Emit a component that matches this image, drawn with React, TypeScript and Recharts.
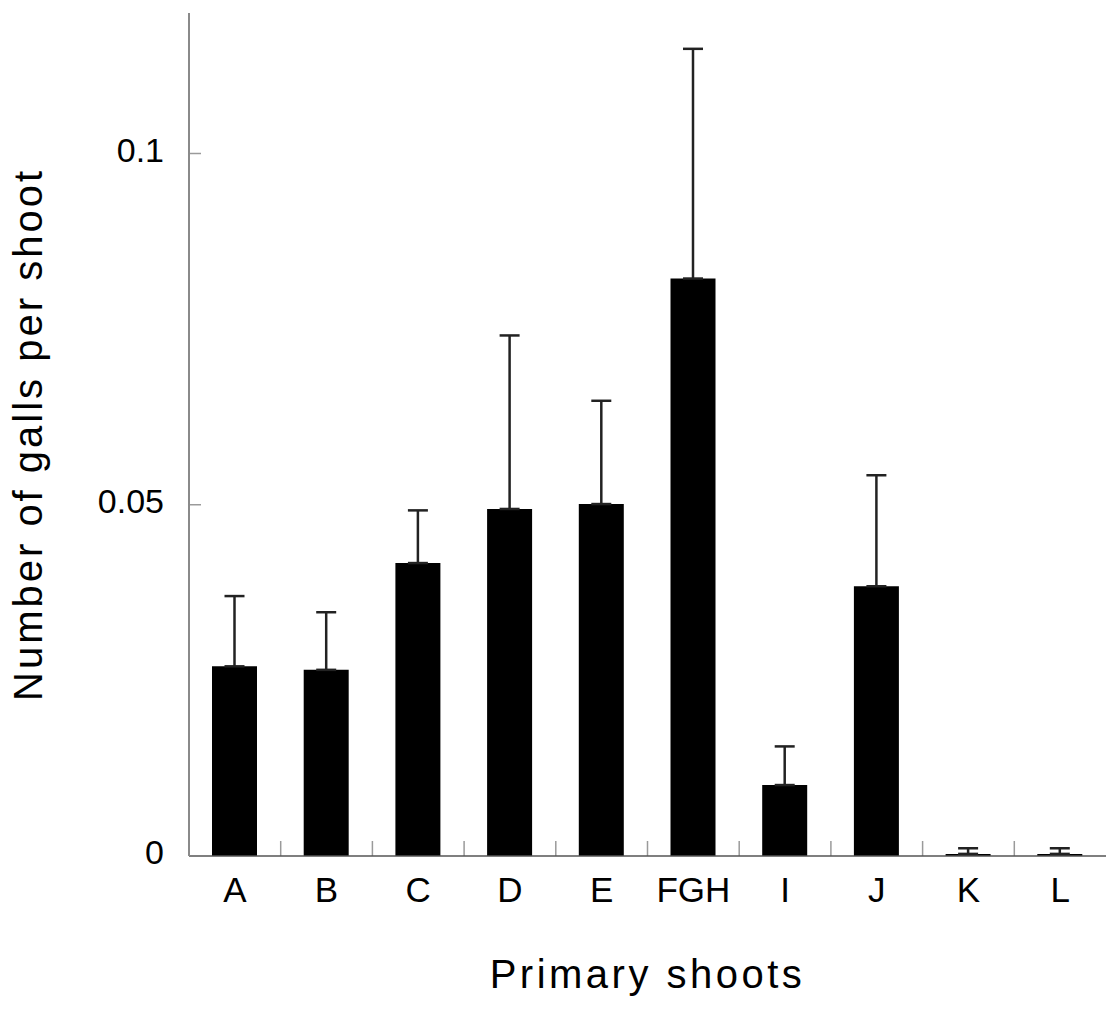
import { Bar, BarChart, ErrorBar, XAxis, YAxis } from "recharts";

const shoots = ["A", "B", "C", "D", "E", "FGH", "I", "J", "K", "L"];
const gallsPerShoot = [0.027, 0.0265, 0.0417, 0.0494, 0.0501, 0.0822, 0.0101, 0.0384, 0.0003, 0.0003];
const stdErr = [0.01, 0.0082, 0.0075, 0.0247, 0.0147, 0.0327, 0.0055, 0.0158, 0.0008, 0.0008];
const yTicks = [0, 0.05, 0.1];
const separators = [1, 2, 3, 4, 5, 6, 7, 8, 9];

const data = shoots.map((name, i) => ({
  name,
  pos: i + 0.5,
  galls: gallsPerShoot[i],
  err: [0, stdErr[i]],
}));

const font = '"Liberation Sans", Arial, Helvetica, sans-serif';
const noLabel = () => <g />;

export default function App() {
  return (
    <div style={{ width: 1108, height: 1013, background: "#fff", fontFamily: font }}>
      <style>{"body{margin:0}"}</style>
      <BarChart
        width={1108}
        height={1013}
        data={data}
        margin={{ top: 13, right: 2, left: 0, bottom: 0 }}
        barCategoryGap={0}
      >
        {/* short separator ticks between categories, pointing up */}
        <XAxis
          xAxisId="sep"
          dataKey="pos"
          type="number"
          domain={[0, 10]}
          ticks={separators}
          allowDataOverflow
          mirror
          height={1}
          tick={noLabel}
          axisLine={false}
          tickSize={15}
          tickLine={{ stroke: "#9a9a9a", strokeWidth: 1.5 }}
        />
        <XAxis
          dataKey="name"
          height={157}
          padding={{ left: 0, right: 0 }}
          axisLine={{ stroke: "#555", strokeWidth: 1.5 }}
          tickLine={false}
          tickSize={0}
          tickMargin={21}
          tick={{ fontSize: 35, fill: "#000", fontFamily: font }}
          label={({ viewBox }: any) => (
            <text
              x={viewBox.x + viewBox.width / 2}
              y={viewBox.y + 132}
              textAnchor="middle"
              fontSize={40}
              letterSpacing={3.5}
              fill="#000"
              fontFamily={font}
            >
              Primary shoots
            </text>
          )}
        />
        {/* inward ticks on the value axis */}
        <YAxis
          yAxisId="tk"
          dataKey="galls"
          domain={[0, 0.12]}
          ticks={[0.05, 0.1]}
          allowDataOverflow
          mirror
          width={1}
          tick={noLabel}
          axisLine={false}
          tickSize={12}
          tickLine={{ stroke: "#9a9a9a", strokeWidth: 1.5 }}
        />
        <YAxis
          domain={[0, 0.12]}
          ticks={yTicks}
          width={189}
          axisLine={{ stroke: "#8a8a8a", strokeWidth: 2 }}
          tickLine={false}
          tickSize={0}
          tickMargin={25}
          tickFormatter={(v: number) => String(v)}
          tick={{ fontSize: 34, fill: "#000", fontFamily: font, dy: -4 }}
          label={({ viewBox }: any) => {
            const cx = viewBox.x + 42;
            const cy = viewBox.y + viewBox.height / 2;
            return (
              <text
                x={cx}
                y={cy}
                transform={`rotate(-90 ${cx} ${cy})`}
                textAnchor="middle"
                fontSize={40}
                letterSpacing={3}
                fill="#000"
                fontFamily={font}
              >
                Number of galls per shoot
              </text>
            );
          }}
        />
        <Bar dataKey="galls" fill="#000" barSize={45} isAnimationActive={false}>
          <ErrorBar dataKey="err" direction="y" width={10} stroke="#222" strokeWidth={2.5} />
        </Bar>
      </BarChart>
    </div>
  );
}
